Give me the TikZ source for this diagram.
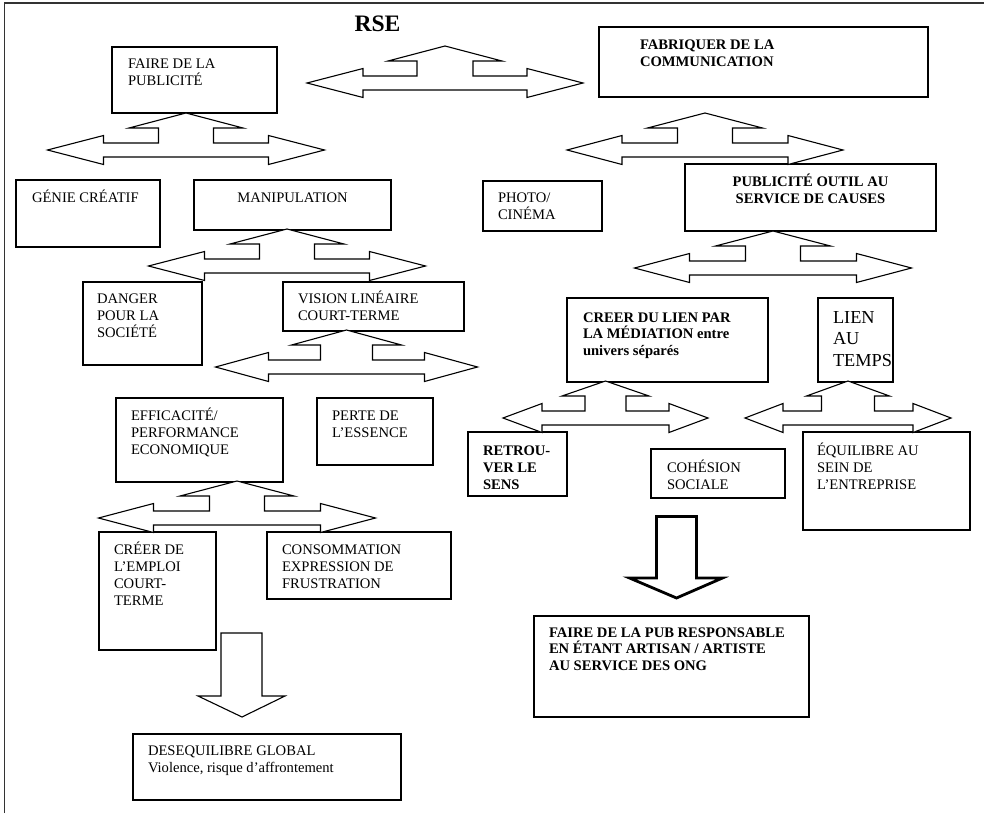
\documentclass[tikz,border=0pt]{standalone}
\usepackage{fontspec}
\setmainfont{Liberation Serif}
\begin{document}
\begin{tikzpicture}[x=1pt,y=-1pt]
\tikzset{
  box/.style={draw=black, line width=1.1pt, inner sep=0pt, outer sep=0pt},
  txt/.style={anchor=north west, inner sep=0pt, outer sep=0pt, align=left,
              font=\fontsize{14.6}{17}\selectfont},
  ctxt/.style={txt, anchor=north, align=center},
  blk/.style={draw=black, line width=1.1pt, fill=white, line join=miter},
  thickblk/.style={blk, line width=2.8pt},
  frame/.style={draw=black!80, line width=1.5pt},
}
% box: name, x1, y1, x2, y2
\newcommand\rbox[5]{\node[box, anchor=north west,
  minimum width={(#4-#2)*1pt}, minimum height={(#5-#3)*1pt}] (#1) at (#2,#3) {};}
% text block: [style], name, x, first baseline, lines
\newcommand\rtxt[5][]{\node[txt,#1] (#2) at (#3,{#4-15}) {\rule{0pt}{15pt}#5};}
% double-headed arrow with an upward branch:
% centre x, shaft y, half width, head length, stem half width, top head half width
\newcommand\tarrow[6]{\draw[blk] ({#1-#3},#2) -- ({#1-#3+#4},{#2-14.5}) -- ({#1-#3+#4},{#2-7})
  -- ({#1-#5},{#2-7}) -- ({#1-#5},{#2-22}) -- ({#1-#6},{#2-22}) -- (#1,{#2-37})
  -- ({#1+#6},{#2-22}) -- ({#1+#5},{#2-22}) -- ({#1+#5},{#2-7}) -- ({#1+#3-#4},{#2-7})
  -- ({#1+#3-#4},{#2-14.5}) -- ({#1+#3},#2) -- ({#1+#3-#4},{#2+14.5}) -- ({#1+#3-#4},{#2+7})
  -- ({#1-#3+#4},{#2+7}) -- ({#1-#3+#4},{#2+14.5}) -- cycle;}

\useasboundingbox (0,0) rectangle (984,813);
\draw[frame] (4.5,813) -- (4.5,3) -- (984,3);

\node[inner sep=0pt, anchor=base, font=\fontsize{23.6}{28}\selectfont\bfseries] (rse) at (377.5,32) {RSE};

% boxes
\rbox{pub}{112}{47}{277}{113}
\rbox{fab}{599}{27}{928}{97}
\rbox{genie}{16}{180}{160}{247}
\rbox{manip}{194}{180}{391}{230}
\rbox{photo}{483}{181}{602}{231}
\rbox{outil}{685}{164}{936}{231}
\rbox{danger}{83}{282}{202}{365}
\rbox{vision}{283}{282}{464}{331}
\rbox{effic}{116}{398}{283}{482}
\rbox{perte}{317}{398}{433}{465}
\rbox{lien}{567}{298}{768}{382}
\rbox{temps}{818}{298}{893}{382}
\rbox{sens}{468}{432}{567}{496}
\rbox{cohes}{651}{449}{785}{498}
\rbox{equil}{803}{432}{970}{530}
\rbox{emploi}{99}{532}{216}{650}
\rbox{conso}{267}{532}{451}{599}
\rbox{deseq}{133}{734}{401}{800}
\rbox{ong}{534}{616}{809}{717}

% texts
\rtxt{tpub}{128}{69}{FAIRE DE LA\\PUBLICITÉ}
\rtxt[font=\fontsize{14.6}{17}\selectfont\bfseries]{tfab}{640}{49.5}{FABRIQUER DE LA\\COMMUNICATION}
\rtxt{tgenie}{32}{202}{GÉNIE CRÉATIF}
\rtxt[ctxt]{tmanip}{292.5}{202}{MANIPULATION}
\rtxt{tphoto}{498}{202.7}{PHOTO/\\CINÉMA}
\rtxt[ctxt, font=\fontsize{14.6}{16.3}\selectfont\bfseries]{toutil}{810.5}{186.7}{PUBLICITÉ OUTIL AU\\SERVICE DE CAUSES}
\rtxt{tdanger}{97}{303}{DANGER\\POUR LA\\SOCIÉTÉ}
\rtxt{tvision}{298}{303}{VISION LINÉAIRE\\COURT-TERME}
\rtxt{teffic}{131}{420.7}{EFFICACITÉ/\\PERFORMANCE\\ECONOMIQUE}
\rtxt{tperte}{332}{420.7}{PERTE DE\\L’ESSENCE}
\rtxt[font=\fontsize{14.6}{16.5}\selectfont\bfseries]{tlien}{583}{322}{CREER DU LIEN PAR\\LA MÉDIATION entre\\univers séparés}
\rtxt[font=\fontsize{18.3}{21.5}\selectfont]{ttemps}{833}{323}{LIEN\\AU\\TEMPS}
\rtxt[font=\fontsize{14.6}{17}\selectfont\bfseries]{tsens}{483}{455}{RETROU-\\VER LE\\SENS}
\rtxt{tcohes}{667}{472}{COHÉSION\\SOCIALE}
\rtxt{tequil}{817}{455}{ÉQUILIBRE AU\\SEIN DE\\L’ENTREPRISE}
\rtxt{temploi}{114}{554}{CRÉER DE\\L’EMPLOI\\COURT-\\TERME}
\rtxt{tconso}{282}{554}{CONSOMMATION\\EXPRESSION DE\\FRUSTRATION}
\rtxt{tdeseq}{148}{755}{DESEQUILIBRE GLOBAL\\Violence, risque d’affrontement}
\rtxt[font=\fontsize{14.6}{16.5}\selectfont\bfseries]{tong}{549}{637}{FAIRE DE LA PUB RESPONSABLE\\EN ÉTANT ARTISAN / ARTISTE\\AU SERVICE DES ONG}

% branching block arrows
\tarrow{445}{83}{138}{56}{28}{57}
\tarrow{186}{150}{138.5}{56}{27.5}{57}
\tarrow{705}{150}{138}{55}{27.5}{57.5}
\tarrow{287}{266}{138.5}{56}{27.5}{57}
\tarrow{773}{268}{138.5}{55}{27.5}{57.5}
\tarrow{346.5}{367}{131}{53}{26}{55}
\tarrow{237}{518}{138.5}{55}{27.5}{57}
\tarrow{605.5}{418}{102.5}{39}{20.5}{43.5}
\tarrow{848}{418}{103}{38}{26.5}{41.5}

% downward block arrows
\draw[blk] (221,633) -- (262,633) -- (262,696) -- (285,696) -- (242,717)
  -- (198,696) -- (221,696) -- cycle;
\draw[thickblk] (656.5,516.5) -- (696.5,516.5) -- (696.5,578) -- (722.5,578) -- (676.5,598)
  -- (629.5,578) -- (656.5,578) -- cycle;
\end{tikzpicture}
\end{document}
